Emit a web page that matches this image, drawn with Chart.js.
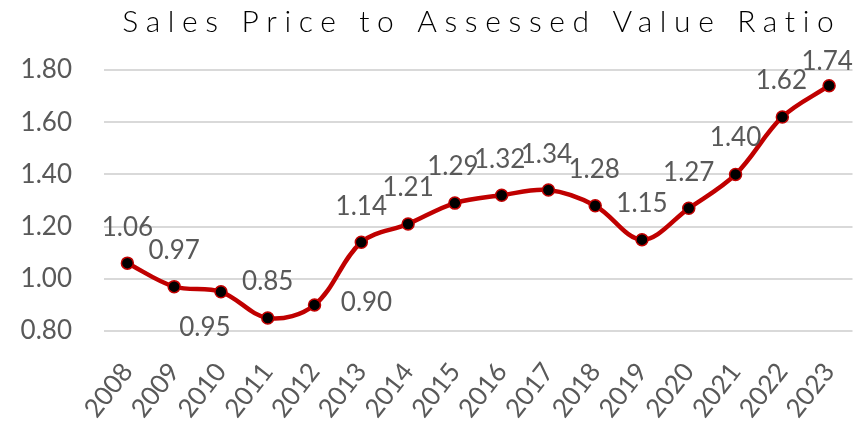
<!DOCTYPE html>
<html>
<head>
<meta charset="utf-8">
<script src="https://cdn.jsdelivr.net/npm/chart.js@4/dist/chart.umd.min.js"></script>
<style>
  html, body { margin: 0; padding: 0; background: #fff; }
  #wrap { width: 860px; height: 433px; position: relative; }
</style>
</head>
<body>
<div id="wrap"><canvas id="c" width="860" height="433"></canvas></div>
<script>
// ---- data ----
const titleText = 'Sales Price to Assessed Value Ratio';
const years = ['2008','2009','2010','2011','2012','2013','2014','2015','2016','2017','2018','2019','2020','2021','2022','2023'];
const ratios = [1.06, 0.97, 0.95, 0.85, 0.90, 1.14, 1.21, 1.29, 1.32, 1.34, 1.28, 1.15, 1.27, 1.40, 1.62, 1.74];
const yTicks = [0.80, 1.00, 1.20, 1.40, 1.60, 1.80];

// ---- styling (label placement offsets, not data) ----
const labelOffsets = [
  [0,-36],[0,-36],[-16,36],[0,-36],[52,-2],[0,-36],[0,-36],[-2,-37],
  [-2,-36],[-2,-35],[-1,-36],[0,-36],[0,-36],[0,-37],[-1,-36],[-2,-24]
];
const FONT = 'Lato';
const GRAY = '#595959';
const RED = '#C00000';

const titlePlugin = {
  id: 'spacedTitle',
  afterDraw(chart) {
    const ctx = chart.ctx;
    const ca = chart.chartArea;
    ctx.save();
    ctx.font = '300 30px ' + FONT;
    ctx.fillStyle = '#000000';
    ctx.textBaseline = 'middle';
    ctx.textAlign = 'left';
    ctx.letterSpacing = '0px';
    const natural = ctx.measureText(titleText).width;
    const target = 712;
    const n = titleText.length;
    const sp = (target - natural) / (n - 1);
    ctx.letterSpacing = sp + 'px';
    const cx = (ca.left + ca.right) / 2;
    ctx.fillText(titleText, cx - target / 2, 22);
    ctx.restore();
  }
};

const labelPlugin = {
  id: 'pointLabels',
  afterDatasetsDraw(chart) {
    const ctx = chart.ctx;
    const meta = chart.getDatasetMeta(0);
    ctx.save();
    ctx.font = '400 26px ' + FONT;
    ctx.fillStyle = GRAY;
    ctx.textAlign = 'center';
    ctx.textBaseline = 'middle';
    meta.data.forEach((pt, i) => {
      const off = labelOffsets[i];
      ctx.fillText(ratios[i].toFixed(2), pt.x + off[0], pt.y + off[1]);
    });
    ctx.restore();
  }
};

new Chart(document.getElementById('c'), {
  type: 'line',
  data: {
    labels: years,
    datasets: [{
      data: ratios,
      borderColor: RED,
      borderWidth: 4.5,
      tension: 0.35,
      pointRadius: 6,
      pointBackgroundColor: '#000000',
      pointBorderColor: RED,
      pointBorderWidth: 1.5,
      fill: false
    }]
  },
  options: {
    responsive: false,
    animation: false,
    events: [],
    layout: { padding: { top: 70, right: 5, left: 0, bottom: 0 } },
    plugins: {
      legend: { display: false },
      title: { display: false },
      tooltip: { enabled: false }
    },
    scales: {
      x: {
        offset: true,
        grid: { display: false, drawTicks: false },
        border: { display: false },
        ticks: {
          autoSkip: false,
          maxRotation: 52,
          minRotation: 52,
          padding: 26,
          color: GRAY,
          font: { family: FONT, size: 26, weight: 400 }
        },
        afterFit(scale) {
          scale.height = 102;
          scale.paddingLeft = 0;
          scale.paddingRight = 0;
        }
      },
      y: {
        min: yTicks[0],
        max: yTicks[yTicks.length - 1],
        afterBuildTicks(scale) { scale.ticks = yTicks.map(v => ({ value: v })); },
        grid: { color: '#d9d9d9', lineWidth: 2, drawTicks: false },
        border: { display: false },
        ticks: {
          padding: 32,
          color: GRAY,
          font: { family: FONT, size: 26, weight: 400 },
          callback: v => Number(v).toFixed(2)
        },
        afterFit(scale) {
          scale.width = 104;
          scale.paddingTop = 0;
          scale.paddingBottom = 0;
        }
      }
    }
  },
  plugins: [titlePlugin, labelPlugin]
});
</script>
</body>
</html>
